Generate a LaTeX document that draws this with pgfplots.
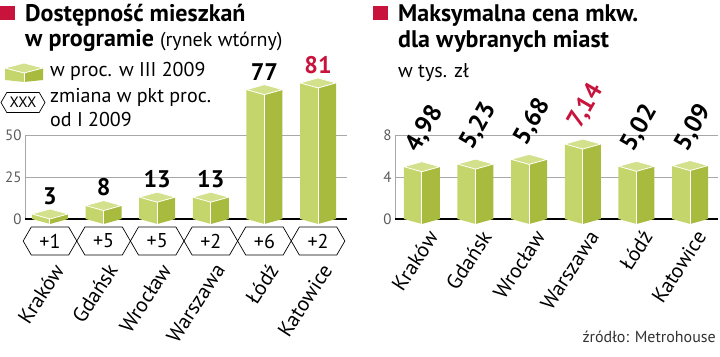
\documentclass[border=0pt]{standalone}
\usepackage{fontspec}
\setmainfont{PT Sans}
\usepackage{graphicx}
\usepackage{pgfplots}
\usepackage{pgfplotstable}
\pgfplotsset{compat=1.18}
\usetikzlibrary{shapes.symbols}
\definecolor{barL}{HTML}{C4D66B}
\definecolor{barR}{HTML}{A8BB3F}
\definecolor{barT}{HTML}{D3E18C}
\definecolor{crim}{HTML}{C8143C}
\definecolor{gridc}{HTML}{A8A8A8}
\definecolor{tickc}{HTML}{5A5A5A}

\pgfdeclareplotmark{captop}{%
  \pgfpathmoveto{\pgfqpoint{-18pt}{0pt}}%
  \pgfpathlineto{\pgfqpoint{0pt}{5pt}}%
  \pgfpathlineto{\pgfqpoint{18pt}{0pt}}%
  \pgfpathlineto{\pgfqpoint{0pt}{-5pt}}%
  \pgfpathclose
  \pgfusepathqfillstroke}
\pgfdeclareplotmark{capbot}{%
  \pgfsetfillcolor{barL}%
  \pgfpathmoveto{\pgfqpoint{-18pt}{0pt}}%
  \pgfpathlineto{\pgfqpoint{0.2pt}{0pt}}%
  \pgfpathlineto{\pgfqpoint{0.2pt}{-5pt}}%
  \pgfpathclose\pgfusepathqfill
  \pgfsetfillcolor{barR}%
  \pgfpathmoveto{\pgfqpoint{0pt}{0pt}}%
  \pgfpathlineto{\pgfqpoint{18pt}{0pt}}%
  \pgfpathlineto{\pgfqpoint{0pt}{-5pt}}%
  \pgfpathclose\pgfusepathqfill
  \pgfsetstrokecolor{white}%
  \pgfsetlinewidth{1pt}%
  \pgfpathmoveto{\pgfqpoint{0pt}{0.5pt}}%
  \pgfpathlineto{\pgfqpoint{0pt}{-5pt}}%
  \pgfusepathqstroke}

\pgfplotstableread{
x y change city
0 3 +1 Kraków
1 8 +5 Gdańsk
2 13 +5 Wrocław
3 13 +2 Warszawa
4 77 +6 Łódź
5 81 +2 Katowice
}\dost

\pgfplotstableread{
x y city
0 4.98 Kraków
1 5.23 Gdańsk
2 5.68 Wrocław
3 7.14 Warszawa
4 5.02 Łódź
5 5.09 Katowice
}\cena

\pgfplotsset{
  mychart/.style={
    scale only axis, clip=false,
    axis x line=none, axis y line*=left,
    y axis line style={draw=gridc, line width=0.8pt},
    ymajorgrids, grid style={draw=gridc, line width=0.8pt},
    major tick length=0pt,
    yticklabel style={font=\fontsize{15}{15}\selectfont, text=tickc},
    /pgf/number format/assume math mode=true,
    height=84pt,
  },
  barsL/.style={ybar, bar width=18pt, bar shift=-9pt, fill=barL, draw=none},
  barsR/.style={ybar, bar width=18pt, bar shift=9pt, fill=barR, draw=none},
  citylab/.style={draw=none, mark=none, nodes near coords, point meta=explicit symbolic,
    every node near coord/.append style={xshift=#1, rotate=57, anchor=east,
      font=\fontsize{21}{21}\selectfont, inner sep=0pt, text=black}},
  vallab/.style={draw=none, mark=none,
    nodes near coords={\rotatebox{60}{\pgfmathprintnumber[fixed, fixed zerofill, precision=2, use comma, assume math mode=true]{\pgfplotspointmeta}}},
    every node near coord/.append style={xshift=3pt, yshift=38pt, anchor=center, inner sep=0pt,
      font=\bfseries\fontsize{25}{25}\selectfont, text=#1}},
}

\begin{document}
\begin{tikzpicture}[x=1pt,y=1pt]
\useasboundingbox (0,0) rectangle (720,356);

% ---- left title ----
\fill[crim] (0,336) rectangle (15,350);
\node[anchor=base west, inner sep=0pt, font=\bfseries\fontsize{24}{24}\selectfont] at (25,334) {Dostępność mieszkań};
\node[anchor=base west, inner sep=0pt] at (25,309) {\fontsize{24}{24}\selectfont\bfseries w programie \mdseries\fontsize{20}{20}\selectfont(rynek wtórny)};

% legend
\fill[barL] (5,288) -- (24,283) -- (24,274) -- (5,276) -- cycle;
\fill[barR] (24,283) -- (43,288) -- (43,276) -- (24,274) -- cycle;
\filldraw[fill=barT, draw=white, line width=0.8pt] (5,288) -- (24,293) -- (43,288) -- (24,283) -- cycle;
\draw[white, line width=1pt] (24,283) -- (24,274);
\node[anchor=base west, inner sep=0pt, font=\fontsize{20}{20}\selectfont] at (50,279) {w proc. w III 2009};
\node[shape=signal, signal to=east and west, signal pointer angle=120, draw=black, line width=0.7pt,
  minimum width=44pt, minimum height=20pt, inner sep=0pt, font=\fontsize{15}{15}\selectfont] at (23,253.5) {XXX};
\node[anchor=base west, inner sep=0pt, font=\fontsize{20}{20}\selectfont] at (50,253) {zmiana w pkt proc.};
\node[anchor=base west, inner sep=0pt, font=\fontsize{20}{20}\selectfont] at (50,229) {od I 2009};

% ---- right title ----
\fill[crim] (373,336) rectangle (388,350);
\node[anchor=base west, inner sep=0pt, font=\bfseries\fontsize{24}{24}\selectfont] at (398,334) {Maksymalna cena mkw.};
\node[anchor=base west, inner sep=0pt, font=\bfseries\fontsize{24}{24}\selectfont] at (398,308) {dla wybranych miast};
\node[anchor=base west, inner sep=0pt, font=\fontsize{20}{20}\selectfont] at (398,278) {w tys. zł};

% source
\node[anchor=base east, inner sep=0pt, font=\fontsize{16}{16}\selectfont, text=black!80] at (716,13) {źródło: Metrohouse};

% ---- left chart ----
\begin{axis}[mychart, at={(25pt,137pt)}, anchor=south west, width=322pt,
  xmin=-0.466, xmax=5.54, ymin=0, ymax=50, ytick={0,25,50}]
\addplot[black, line width=2.5pt, mark=none] coordinates {(-0.466,0) (5.54,0)};
\addplot[barsL] table[x=x,y=y]{\dost};
\addplot[barsR] table[x=x,y=y]{\dost};
\addplot[ycomb, draw=white, line width=1pt, mark=none] table[x=x,y=y]{\dost};
\addplot[only marks, mark=capbot] table[x=x, y expr=0]{\dost};
\addplot[only marks, mark=captop, mark options={fill=barT, draw=white, line width=0.8pt}] table[x=x,y=y]{\dost};
\addplot[draw=none, mark=none, nodes near coords, restrict x to domain=0:4,
  every node near coord/.append style={anchor=south, yshift=6pt, font=\bfseries\fontsize{24}{24}\selectfont, text=black}]
  table[x=x,y=y]{\dost};
\addplot[draw=none, mark=none, nodes near coords, restrict x to domain=5:5,
  every node near coord/.append style={anchor=south, yshift=6pt, font=\bfseries\fontsize{24}{24}\selectfont, text=crim}]
  table[x=x,y=y]{\dost};
% change hexagons
\addplot[draw=none, mark=none, nodes near coords, point meta=explicit symbolic,
  every node near coord/.append style={shape=signal, signal to=east and west, signal pointer angle=120,
    draw=black, line width=0.7pt, minimum width=53.6pt, minimum height=28pt, inner sep=0pt,
    anchor=center, font=\fontsize{20}{20}\selectfont, text=black}]
  table[x=x, y expr=-13.1, meta=change]{\dost};
% city names
\addplot[citylab=9pt] table[x=x, y expr=-28, meta=city]{\dost};
\end{axis}

% ---- right chart ----
\begin{axis}[mychart, at={(395pt,137pt)}, anchor=south west, width=323pt,
  xmin=-0.5, xmax=5.52, ymin=0, ymax=8, ytick={0,4,8}]
\addplot[black, line width=2.5pt, mark=none] coordinates {(-0.5,0) (5.52,0)};
\addplot[barsL] table[x=x,y=y]{\cena};
\addplot[barsR] table[x=x,y=y]{\cena};
\addplot[ycomb, draw=white, line width=1pt, mark=none] table[x=x,y=y]{\cena};
\addplot[only marks, mark=capbot] table[x=x, y expr=0]{\cena};
\addplot[only marks, mark=captop, mark options={fill=barT, draw=white, line width=0.8pt}] table[x=x,y=y]{\cena};
\addplot[vallab=black, x filter/.expression={x==3 ? nan : x}] table[x=x,y=y]{\cena};
\addplot[vallab=crim, x filter/.expression={x==3 ? x : nan}] table[x=x,y=y]{\cena};
\addplot[citylab=11pt] table[x=x, y expr=-1.3, meta=city]{\cena};
\end{axis}
\end{tikzpicture}
\end{document}
